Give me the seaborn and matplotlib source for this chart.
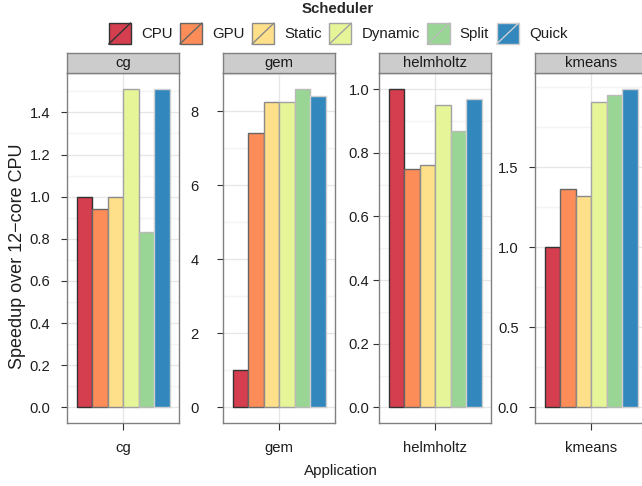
import numpy as np
import pandas as pd
import matplotlib
matplotlib.use("Agg")
import matplotlib.pyplot as plt
from matplotlib.patches import Rectangle, Patch
from matplotlib.lines import Line2D
from matplotlib.legend_handler import HandlerBase
import seaborn as sns

# ---------------- data ----------------
apps = ["cg", "gem", "helmholtz", "kmeans"]
schedulers = ["CPU", "GPU", "Static", "Dynamic", "Split", "Quick"]
cg = [1.0, 0.94, 1.0, 1.51, 0.83, 1.51]
gem = [1.0, 7.42, 8.25, 8.25, 8.6, 8.41]
helmholtz = [1.0, 0.75, 0.763, 0.95, 0.87, 0.968]
kmeans = [1.0, 1.367, 1.321, 1.91, 1.954, 1.989]
values = {"cg": cg, "gem": gem, "helmholtz": helmholtz, "kmeans": kmeans}

major_ticks = {
    "cg": [0.0, 0.2, 0.4, 0.6, 0.8, 1.0, 1.2, 1.4],
    "gem": [0, 2, 4, 6, 8],
    "helmholtz": [0.0, 0.2, 0.4, 0.6, 0.8, 1.0],
    "kmeans": [0.0, 0.5, 1.0, 1.5],
}
minor_ticks = {
    "cg": [0.1, 0.3, 0.5, 0.7, 0.9, 1.1, 1.3, 1.5],
    "gem": [1, 3, 5, 7, 9],
    "helmholtz": [0.1, 0.3, 0.5, 0.7, 0.9],
    "kmeans": [0.25, 0.75, 1.25, 1.75, 2.0],
}
tick_fmt = {"cg": "{:.1f}", "gem": "{:.0f}", "helmholtz": "{:.1f}", "kmeans": "{:.1f}"}

df = pd.DataFrame(
    [(a, s, v) for a in apps for s, v in zip(schedulers, values[a])],
    columns=["Application", "Scheduler", "Speedup"],
)

fill_colors = ["#D53E4F", "#FC8D59", "#FEE08B", "#E6F598", "#99D594", "#3288BD"]
edge_colors = ["#333333", "#666666", "#8a8a8a", "#a3a3a3", "#bababa", "#cfcfcf"]

# ---------------- style ----------------
sns.set_theme(style="white")
plt.rcParams["font.family"] = ["Liberation Sans", "DejaVu Sans"]

W, H = 642, 486
fig = plt.figure(figsize=(W / 100, H / 100), dpi=100)

panel_left = [67.3, 223.3, 379.3, 535.3]
panel_w = 112.0
panel_top, panel_bot = 73.3, 423.3
strip_top = 52.7
ypad_pt = {"cg": 8.3, "gem": 13.5, "helmholtz": 3.2, "kmeans": 8.0}

grey_border = "#808080"
txt_col = "#1e1e1e"

for i, app in enumerate(apps):
    l = panel_left[i] / W
    b = 1 - panel_bot / H
    h = (panel_bot - panel_top) / H
    ax = fig.add_axes([l, b, panel_w / W, h])
    sub = df[df["Application"] == app]
    sns.barplot(
        data=sub, x="Application", y="Speedup", hue="Scheduler",
        hue_order=schedulers, palette=fill_colors, width=1.0, gap=0,
        saturation=1, errorbar=None, legend=False, ax=ax, zorder=3,
    )
    for cont, ec in zip(ax.containers, edge_colors):
        for p in cont:
            p.set_edgecolor(ec)
            p.set_linewidth(1.0)
    vmax = sub["Speedup"].max()
    ax.set_ylim(-0.05 * vmax, 1.05 * vmax)
    ax.set_xlim(-0.6, 0.6)
    ax.set_yticks(major_ticks[app])
    ax.set_yticklabels([tick_fmt[app].format(t) for t in major_ticks[app]])
    ax.set_yticks(minor_ticks[app], minor=True)
    ax.set_xticks([0])
    ax.set_xticklabels([app])
    ax.set_xlabel("")
    ax.set_ylabel("")
    ax.set_axisbelow(True)
    ax.grid(True, which="major", color="#e6e6e6", linewidth=0.9)
    ax.grid(True, which="minor", axis="y", color="#f4f4f4", linewidth=1.0)
    ax.tick_params(axis="y", which="major", left=True, length=4, width=0.8,
                   color="#333333", pad=ypad_pt[app], labelsize=10.6, labelcolor=txt_col)
    ax.tick_params(axis="y", which="minor", left=False)
    ax.tick_params(axis="x", which="major", bottom=True, length=5, width=0.8,
                   color="#333333", pad=8, labelsize=10.7, labelcolor=txt_col)
    for sp in ax.spines.values():
        sp.set_color(grey_border)
        sp.set_linewidth(1.0)
        sp.set_visible(True)
    ax.set_facecolor("white")

    # strip
    sax = fig.add_axes([l, 1 - panel_top / H, panel_w / W, (panel_top - strip_top) / H])
    sax.set_facecolor("#cccccc")
    sax.set_xticks([])
    sax.set_yticks([])
    for sp in sax.spines.values():
        sp.set_color(grey_border)
        sp.set_linewidth(1.0)
        sp.set_visible(True)
    sax.text(0.5, 0.48, app, ha="center", va="center", fontsize=10.7,
             color="#1a1a1a", transform=sax.transAxes)

# axis titles
fig.text(340.6 / W, 1 - 471 / H, "Application", ha="center", va="center",
         fontsize=10.9, color=txt_col)
fig.text(17.5 / W, 1 - 256.5 / H, "Speedup over 12\u2212core CPU", ha="center",
         va="center", rotation=90, fontsize=13.0, color=txt_col)


# legend with diagonal-line keys
class DiagHandler(HandlerBase):
    def create_artists(self, legend, orig_handle, xdescent, ydescent,
                       width, height, fontsize, trans):
        fc = orig_handle.get_facecolor()
        ec = orig_handle.get_edgecolor()
        r = Rectangle((-xdescent, -ydescent), width, height, facecolor=fc,
                      edgecolor=ec, linewidth=1.0, transform=trans)
        ln = Line2D([-xdescent, -xdescent + width], [-ydescent, -ydescent + height],
                    color=ec, linewidth=1.0, transform=trans)
        return [r, ln]


handles = [Patch(facecolor=fc, edgecolor=ec) for fc, ec in zip(fill_colors, edge_colors)]
leg = fig.legend(
    handles, schedulers, handler_map={Patch: DiagHandler()},
    loc="upper center", bbox_to_anchor=(338 / W, 1.0), ncol=6, frameon=False,
    fontsize=10.8, title="Scheduler",
    title_fontproperties={"weight": "bold", "size": 10.8},
    handlelength=1.47, handleheight=1.78, handletextpad=0.68,
    columnspacing=0.5, borderpad=0.1, borderaxespad=0.0,
)
for t in leg.get_texts():
    t.set_color(txt_col)

fig.savefig("out.png", dpi=100)
